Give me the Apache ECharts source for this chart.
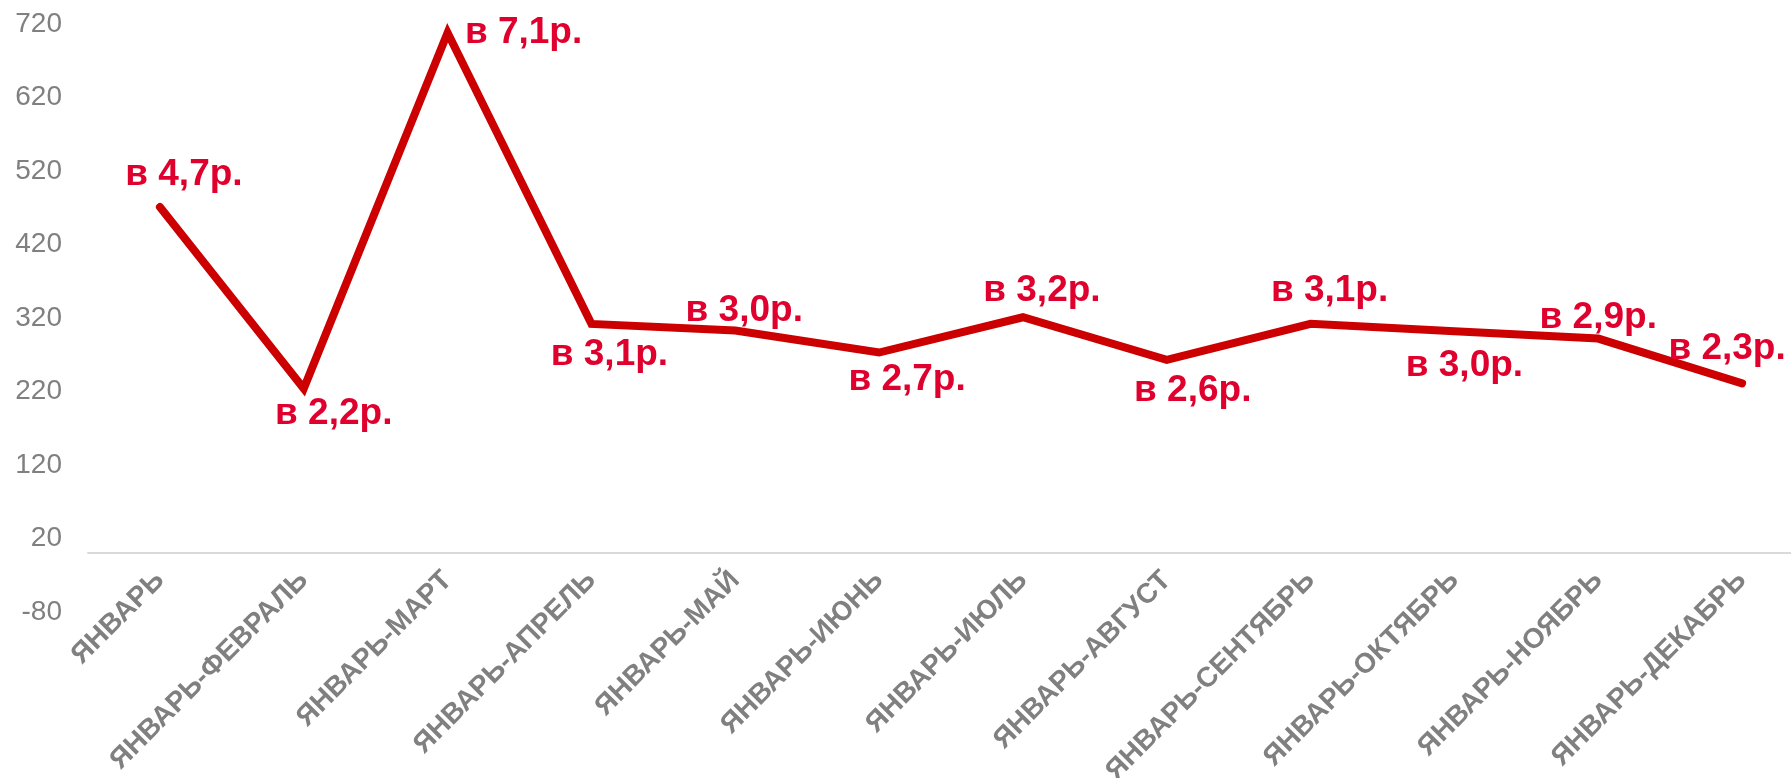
<!DOCTYPE html>
<html>
<head>
<meta charset="utf-8">
<script src="https://cdn.jsdelivr.net/npm/echarts@6/dist/echarts.min.js"></script>
<style>
html,body{margin:0;padding:0;background:#fff;}
#chart{width:1791px;height:778px;}
</style>
</head>
<body>
<div id="chart"></div>
<script>
const categories = ['ЯНВАРЬ','ЯНВАРЬ-ФЕВРАЛЬ','ЯНВАРЬ-МАРТ','ЯНВАРЬ-АПРЕЛЬ','ЯНВАРЬ-МАЙ','ЯНВАРЬ-ИЮНЬ','ЯНВАРЬ-ИЮЛЬ','ЯНВАРЬ-АВГУСТ','ЯНВАРЬ-СЕНТЯБРЬ','ЯНВАРЬ-ОКТЯБРЬ','ЯНВАРЬ-НОЯБРЬ','ЯНВАРЬ-ДЕКАБРЬ'];
const values = [471, 224, 708, 312, 303, 273, 321, 263, 312, 302, 292, 231];
const ratioLabels = ['в 4,7р.','в 2,2р.','в 7,1р.','в 3,1р.','в 3,0р.','в 2,7р.','в 3,2р.','в 2,6р.','в 3,1р.','в 3,0р.','в 2,9р.','в 2,3р.'];
const yMin = -80, yMax = 720, yStep = 100;

// label placement offsets (layout only)
const labelOffsets = [[24,-32],[30,25],[76,0],[18,31],[9,-20],[28,27],[19,-26],[26,31],[19,-33],[10,35],[0,-21],[-15,-35]];

const seriesData = values.map((v, i) => ({
  value: v,
  label: { offset: labelOffsets[i], formatter: ratioLabels[i] }
}));

const chart = echarts.init(document.getElementById('chart'));
chart.setOption({
  animation: false,
  grid: { left: 88, width: 1726, top: 24, bottom: 166, containLabel: false, outerBoundsMode: 'none' },
  xAxis: {
    type: 'category',
    data: categories,
    boundaryGap: true,
    axisLine: { onZero: true, lineStyle: { color: '#d9d9d9', width: 2 } },
    axisTick: { show: false },
    axisLabel: {
      rotate: 45,
      interval: 0,
      margin: -36,
      color: '#808080',
      fontFamily: 'Liberation Sans, Arial, sans-serif',
      fontWeight: 'bold',
      fontSize: 28
    },
    splitLine: { show: false }
  },
  yAxis: {
    type: 'value',
    min: yMin,
    max: yMax,
    interval: yStep,
    axisLine: { show: false },
    axisTick: { show: false },
    splitLine: { show: false },
    axisLabel: {
      margin: 26,
      color: '#808080',
      fontFamily: 'Liberation Sans, Arial, sans-serif',
      fontSize: 28
    }
  },
  series: [{
    type: 'line',
    data: seriesData,
    symbol: 'circle',
    symbolSize: 2,
    showSymbol: true,
    itemStyle: { color: '#cc0000' },
    lineStyle: { color: '#cc0000', width: 8, cap: 'round', join: 'miter' },
    label: {
      show: true,
      position: 'inside',
      align: 'center',
      verticalAlign: 'middle',
      color: '#e0002d',
      fontFamily: 'Liberation Sans, Arial, sans-serif',
      fontWeight: 'bold',
      fontSize: 37
    }
  }]
});
</script>
</body>
</html>
